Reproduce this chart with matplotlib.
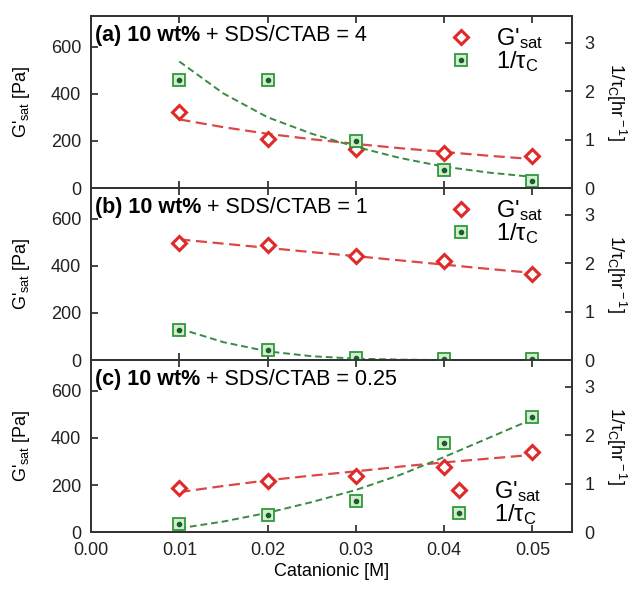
import matplotlib
matplotlib.use("Agg")
import matplotlib.pyplot as plt
from matplotlib.lines import Line2D

plt.rcParams["font.family"] = ["Liberation Sans", "DejaVu Sans"]
plt.rcParams["mathtext.fontset"] = "custom"
plt.rcParams["mathtext.rm"] = "Liberation Sans"
plt.rcParams["mathtext.it"] = "Liberation Sans:italic"
plt.rcParams["mathtext.bf"] = "Liberation Sans:bold"

# -----------------------------------------------------------------------------
# Data
# -----------------------------------------------------------------------------
conc = [0.01, 0.02, 0.03, 0.04, 0.05]
fit_x = [0.01, 0.015, 0.02, 0.025, 0.03, 0.035, 0.04, 0.045, 0.05]

panel_bold = ["(a) 10 wt%", "(b) 10 wt%", "(c) 10 wt%"]
panel_rest = [" + SDS/CTAB = 4", " + SDS/CTAB = 1", " + SDS/CTAB = 0.25"]

# G'sat [Pa]
gsat_a = [322, 208, 165, 149, 137]
gsat_b = [498, 487, 443, 420, 365]
gsat_c = [187, 215, 237, 276, 342]

# 1/tau_c [1/hr]
rate_a = [2.22, 2.22, 0.97, 0.37, 0.15]
rate_b = [0.62, 0.20, 0.035, 0.02, 0.02]
rate_c = [0.16, 0.36, 0.65, 1.84, 2.37]

# dashed fit curves
gfit_a = [291, 258, 230, 207, 187, 169, 153, 137, 123]
gfit_b = [512, 494, 476, 458, 441, 423, 405, 387, 370]
gfit_c = [170, 196, 220, 240, 258, 278, 296, 312, 328]
rfit_a = [2.61, 1.95, 1.46, 1.12, 0.85, 0.62, 0.44, 0.32, 0.23]
rfit_b = [0.65, 0.37, 0.18, 0.08, 0.03, 0.01, 0.0]
rfit_c = [0.08, 0.22, 0.40, 0.62, 0.87, 1.18, 1.55, 1.94, 2.33]

RED = "#e02a2a"
RED_FIT = "#d9484a"
GREEN = "#2f9a3c"
GREEN_FILL = "#d3ecce"
GREEN_DOT = "#17602a"
GREEN_FIT = "#3a8a42"

FS = 13

fig, axes = plt.subplots(3, 1, figsize=(6.37, 5.90), dpi=100, sharex=True)
fig.subplots_adjust(left=0.143, right=0.898, top=0.973, bottom=0.098, hspace=0)

gsats = [gsat_a, gsat_b, gsat_c]
rates = [rate_a, rate_b, rate_c]
gfits = [gfit_a, gfit_b, gfit_c]
rfits = [rfit_a, rfit_b, rfit_c]

for i, ax in enumerate(axes):
    ax2 = ax.twinx()

    ax.plot(fit_x, gfits[i], color=RED_FIT, lw=1.6, ls=(0, (5, 2.5)), zorder=2)
    ax.plot(conc, gsats[i], ls="none", marker="D", ms=7.5, mfc="white",
            mec=RED, mew=2.2, zorder=3)

    ax2.plot(fit_x[:len(rfits[i])], rfits[i], color=GREEN_FIT, lw=1.4,
             ls=(0, (3.5, 2)), zorder=2)
    ax2.plot(conc, rates[i], ls="none", marker="s", ms=8.5, mfc=GREEN_FILL,
             mec=GREEN, mew=1.3, zorder=3)
    ax2.plot(conc, rates[i], ls="none", marker="o", ms=3, mfc=GREEN_DOT,
             mec=GREEN_DOT, zorder=4)

    ax.set_xlim(0, 0.0545)
    ax.set_ylim(0, 730)
    ax2.set_ylim(0, 3.55)
    ax.set_yticks([0, 200, 400, 600])
    ax2.set_yticks([0, 1, 2, 3])
    ax.set_xticks(conc if i < 2 else [0.0] + conc)

    ax.tick_params(axis="y", direction="in", length=5, width=1.2, pad=7,
                   labelsize=FS, colors="#222222")
    ax.tick_params(axis="x", direction="in", length=5, width=1.2, pad=7,
                   labelsize=FS, top=True, colors="#222222")
    ax2.tick_params(axis="y", direction="in", length=5, width=1.2, pad=9,
                    labelsize=FS, colors="#222222")
    for a in (ax, ax2):
        for s in a.spines.values():
            s.set_linewidth(1.3)
            s.set_color("#333333")

    ax.set_ylabel(r"G'$_{\rm sat}$ [Pa]", fontsize=FS, labelpad=14)
    ax2.set_ylabel(r"1/τ$_{\rm C}$[hr$^{\rm -1}$]", fontsize=FS,
                   rotation=270, labelpad=24)

    t1 = ax.text(0.008, 0.95, panel_bold[i], transform=ax.transAxes,
                 fontsize=15.5, fontweight="bold", va="top", ha="left")
    ax.annotate(panel_rest[i], xy=(1, 0), xycoords=t1, fontsize=15.5,
                va="bottom", ha="left")

    h_g = Line2D([], [], ls="none", marker="D", ms=7.5, mfc="white", mec=RED, mew=2.2)
    h_sq = Line2D([], [], ls="none", marker="s", ms=8.5, mfc=GREEN_FILL,
                  mec=GREEN, mew=1.3)
    h_dot = Line2D([], [], ls="none", marker="o", ms=3, mfc=GREEN_DOT, mec=GREEN_DOT)
    labels = [r"G'$_{\rm sat}$", r"1/τ$_{\rm C}$"]
    if i < 2:
        loc, anchor = "upper left", (0.715, 1.025)
    else:
        loc, anchor = "lower left", (0.71, -0.055)
    ax2.legend([h_g, (h_sq, h_dot)], labels, loc=loc, bbox_to_anchor=anchor,
               frameon=False, fontsize=17, handlelength=1.0,
               handletextpad=1.0, labelspacing=-0.05, borderaxespad=0.2)

axes[-1].xaxis.set_major_formatter(matplotlib.ticker.FormatStrFormatter("%.2f"))
axes[-1].set_xlabel("Catanionic [M]", fontsize=FS, labelpad=3)

fig.savefig("out.png", dpi=100)
